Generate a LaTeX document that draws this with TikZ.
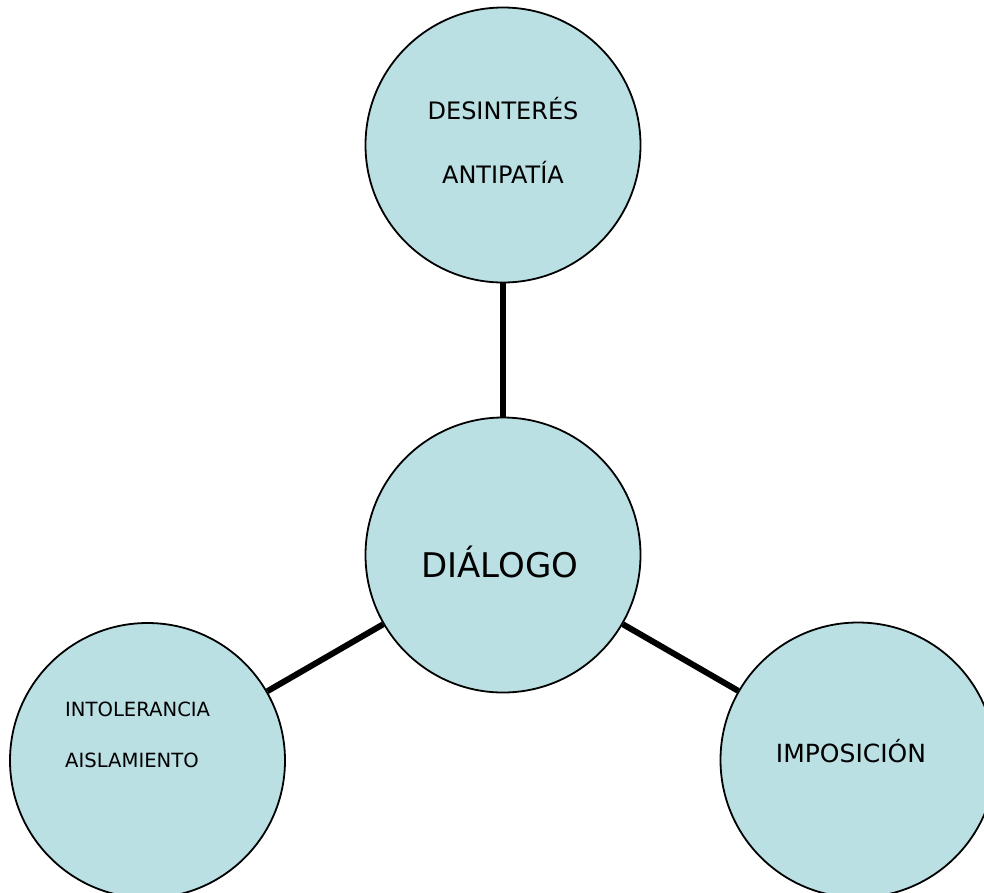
\documentclass[tikz,border=0pt]{standalone}
\usepackage{fontspec}
\setmainfont{DejaVu Sans}
\definecolor{bubble}{RGB}{186,224,227}
\begin{document}
\begin{tikzpicture}[x=1pt,y=-1pt,
  bub/.style={circle,draw=black,line width=1.8pt,fill=bubble,minimum size=275pt,inner sep=0pt},
  link/.style={line width=6pt,draw=black},
  lbl/.style={inner sep=0pt,anchor=base,text=black}]
\useasboundingbox (0,0) rectangle (984,892);
\clip (0,0) rectangle (984,892);
\node[bub] (top) at (503,145) {};
\node[bub] (mid) at (503,555) {};
\node[bub] (left) at (147.5,760.5) {};
\node[bub] (right) at (858,760) {};
\draw[link] (top) -- (mid);
\draw[link] (mid) -- (left);
\draw[link] (mid) -- (right);
\node[lbl] (t1) at (503,119) {\fontsize{24}{28}\selectfont DESINTERÉS};
\node[lbl] (t2) at (503,183) {\fontsize{24}{28}\selectfont ANTIPATÍA};
\node[lbl] (m1) at (500,577) {\fontsize{34}{40}\selectfont DIÁLOGO};
\node[lbl] (r1) at (851,762) {\fontsize{25}{30}\selectfont IMPOSICIÓN};
\node[lbl,anchor=base west] (l1) at (65,716.7) {\fontsize{19.6}{24}\selectfont INTOLERANCIA};
\node[lbl,anchor=base west] (l2) at (65,767.3) {\fontsize{19.6}{24}\selectfont AISLAMIENTO};
\end{tikzpicture}
\end{document}
